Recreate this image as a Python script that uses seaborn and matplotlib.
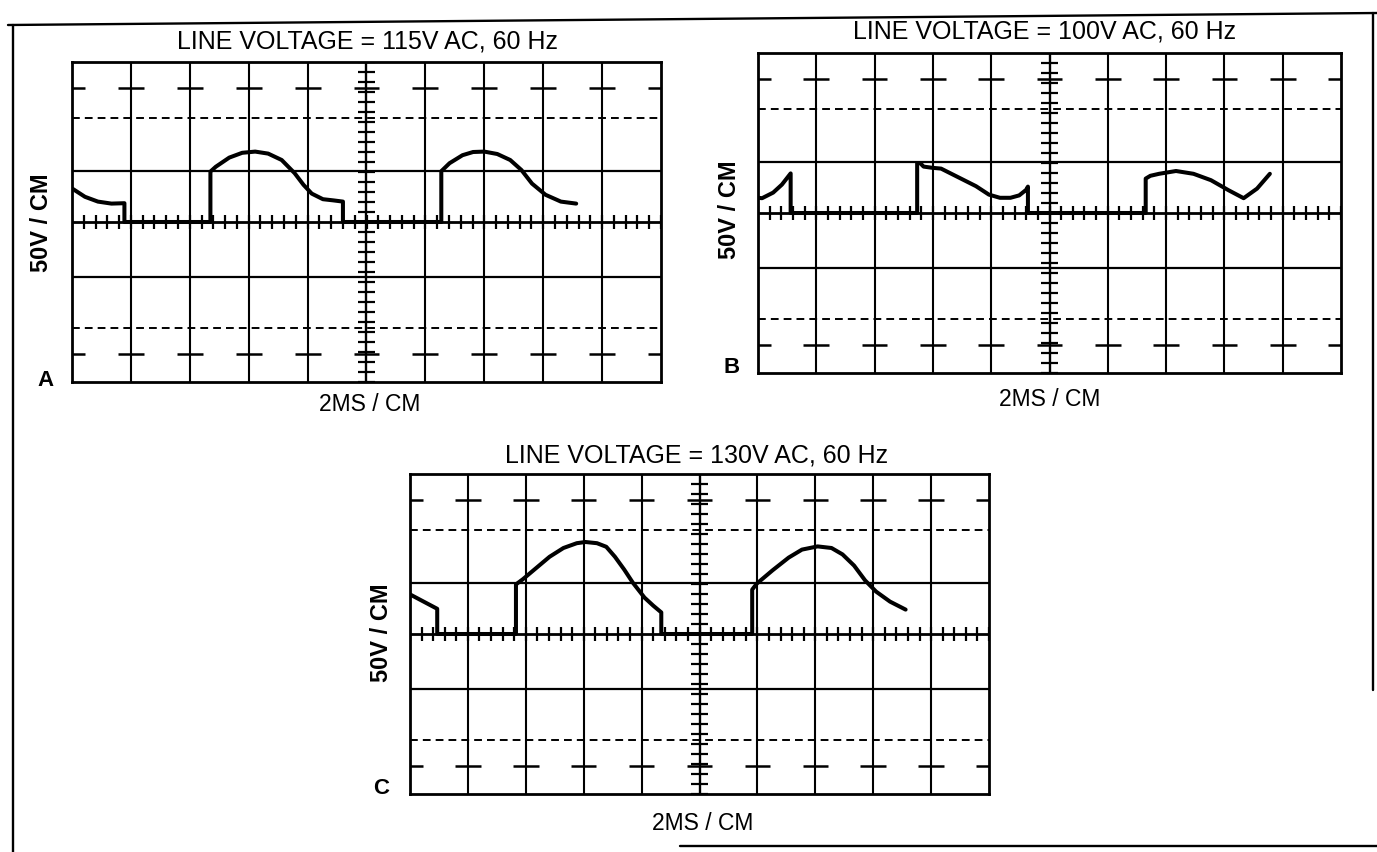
import numpy as np
import pandas as pd
import matplotlib
matplotlib.use("Agg")
import matplotlib.pyplot as plt
import seaborn as sns

W, H = 1377, 852

# trace points in graticule divisions (x: -5..5, y: -4..4)
a_x = [-5, -4.78, -4.56, -4.33, -4.11, -4.11, -2.65, -2.65, -2.56, -2.33, -2.11, -1.89,
       -1.67, -1.44, -1.22, -1.07, -0.93, -0.74, -0.56, -0.40, -0.40, 1.27, 1.27, 1.41,
       1.63, 1.81, 2.0, 2.22, 2.44, 2.63, 2.81, 3.04, 3.30, 3.56]
a_y = [0.84, 0.63, 0.51, 0.46, 0.47, 0, 0, 1.26, 1.38, 1.61, 1.73, 1.76,
       1.71, 1.55, 1.22, 0.93, 0.71, 0.57, 0.54, 0.51, 0, 0, 1.27, 1.47,
       1.67, 1.75, 1.76, 1.70, 1.55, 1.30, 0.96, 0.68, 0.51, 0.46]

b_x = [-5, -4.93, -4.74, -4.59, -4.44, -4.44, -2.27, -2.27, -2.22, -2.16, -2.01, -1.86,
       -1.26, -1.04, -0.85, -0.67, -0.52, -0.40, -0.37, -0.37, 1.65, 1.65, 1.73, 1.88,
       2.17, 2.47, 2.77, 3.07, 3.33, 3.56, 3.78]
b_y = [0.38, 0.37, 0.51, 0.71, 0.99, 0, 0, 1.24, 1.25, 1.16, 1.13, 1.11,
       0.67, 0.46, 0.38, 0.38, 0.44, 0.58, 0.66, 0, 0, 0.86, 0.93, 0.98,
       1.05, 0.98, 0.82, 0.57, 0.37, 0.61, 0.98]

c_x = [-5, -4.53, -4.53, -3.17, -3.17, -3.05, -2.82, -2.59, -2.35, -2.12, -1.97, -1.77,
       -1.61, -1.46, -1.30, -1.15, -0.95, -0.80, -0.66, -0.66, 0.91, 0.91, 0.99, 1.26,
       1.54, 1.77, 2.04, 2.28, 2.47, 2.67, 2.86, 3.05, 3.29, 3.56]
c_y = [0.99, 0.63, 0, 0, 1.24, 1.37, 1.65, 1.93, 2.15, 2.27, 2.30, 2.27,
       2.18, 1.93, 1.61, 1.28, 0.91, 0.71, 0.54, 0, 0, 1.11, 1.26, 1.59,
       1.91, 2.11, 2.19, 2.15, 1.99, 1.71, 1.34, 1.06, 0.81, 0.61]

titles = ["LINE VOLTAGE = 115V AC, 60 Hz", "LINE VOLTAGE = 100V AC, 60 Hz",
          "LINE VOLTAGE = 130V AC, 60 Hz"]
letters = ["A", "B", "C"]
ylab = "50V / CM"
xlab = "2MS / CM"

sns.set_theme(style="white")
plt.rcParams["font.family"] = ["Liberation Sans", "DejaVu Sans"]

fig = plt.figure(figsize=(W / 100, H / 100), dpi=100)
fig.patch.set_facecolor("white")


def px_axes(l, t, r, b):
    return fig.add_axes([l / W, 1 - b / H, (r - l) / W, (b - t) / H])


def ftext(x, y, s, **kw):
    fig.text(x / W, 1 - y / H, s, ha="center", va="center", color="black", **kw)


def graticule(ax):
    ax.set_xlim(-5, 5)
    ax.set_ylim(-4, 4)
    ax.set_xticks([])
    ax.set_yticks([])
    for sp in ax.spines.values():
        sp.set_visible(True)
        sp.set_color("black")
        sp.set_linewidth(2.0)
    for x in range(-4, 5):
        if x != 0:
            ax.axvline(x, color="black", lw=1.5)
    ax.axvline(0, color="black", lw=1.7)
    ax.axhline(0, color="black", lw=2.0)
    for y in (1.28, -1.38):
        ax.axhline(y, color="black", lw=1.6)
    for y in (2.6, -2.65):
        ax.axhline(y, color="black", lw=1.4, ls=(0, (4, 2.6)))
    xs = np.arange(-5, 6)
    for y in (3.35, -3.3):
        ax.hlines(np.full(len(xs), y), xs - 0.22, xs + 0.22, color="black", lw=1.8)
    # minor ticks on the centre axes
    tx = np.arange(-5, 5.01, 0.2)
    ax.vlines(tx, np.full(len(tx), -0.18), np.full(len(tx), 0.18), color="black", lw=1.6)
    ty = np.arange(-4, 4.01, 0.25)
    ax.hlines(ty, np.full(len(ty), -0.14), np.full(len(ty), 0.14), color="black", lw=1.6)


panels = [
    ((72, 62, 661, 382), a_x, a_y, (367, 41), (370, 405), (42, 223), (45, 380)),
    ((758, 53, 1341, 373), b_x, b_y, (1045, 31), (1050, 400), (730, 210), (732, 367)),
    ((410, 474, 989, 794), c_x, c_y, (697, 456), (703, 823), (381, 633), (381, 789)),
]

for i, (box, tx, ty, tpos, xpos, ypos, lpos) in enumerate(panels):
    ax = px_axes(*box)
    ax.set_facecolor("white")
    graticule(ax)
    df = pd.DataFrame({"t": tx, "v": ty})
    sns.lineplot(data=df, x="t", y="v", sort=False, estimator=None, ax=ax,
                 color="black", lw=2.9, solid_joinstyle="round", solid_capstyle="round")
    ax.set_xlabel("")
    ax.set_ylabel("")
    ftext(*tpos, titles[i], fontsize=18)
    ftext(*xpos, xlab, fontsize=16.5)
    ftext(*ypos, ylab, fontsize=17, fontweight="bold", rotation=90)
    ftext(*lpos, letters[i], fontsize=16, fontweight="bold")

# outer frame of the scanned figure
frame = [((8, 1377), (25, 13)), ((13, 13), (25, 852)), ((1373, 1373), (13, 690)),
         ((680, 1377), (846, 846))]
for xs, ys in frame:
    fig.add_artist(plt.Line2D([x / W for x in xs], [1 - y / H for y in ys],
                              transform=fig.transFigure, color="black", lw=1.7))

fig.savefig("out.png", dpi=100, facecolor="white")
